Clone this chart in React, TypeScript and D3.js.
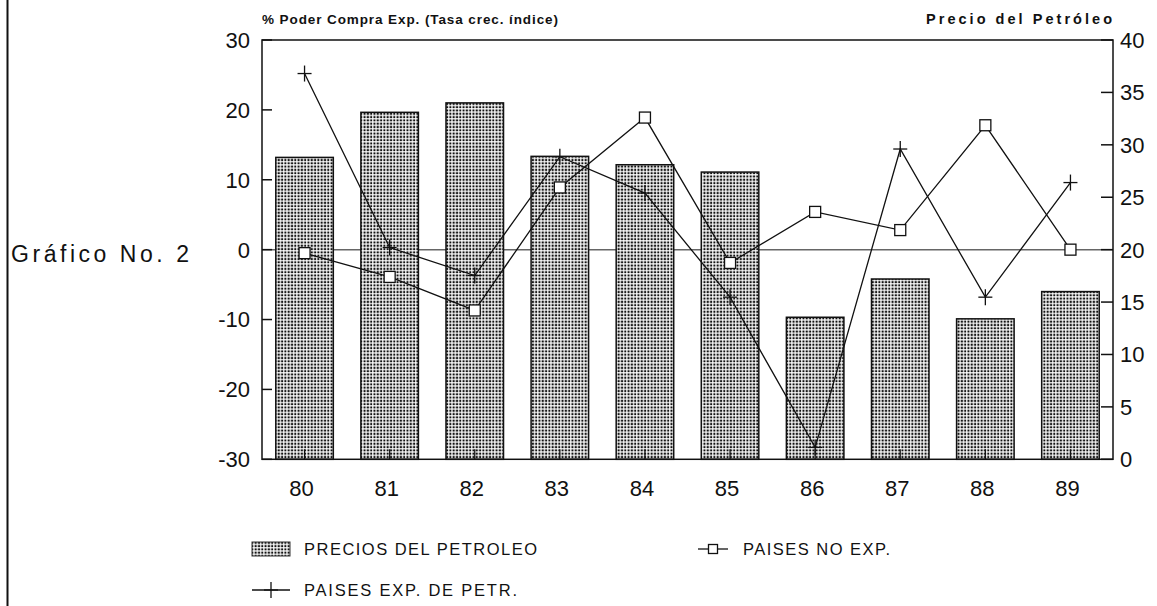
import React from "react";
import * as d3 from "d3";

const years = ["80", "81", "82", "83", "84", "85", "86", "87", "88", "89"];
const oilPrice = [28.8, 33.1, 34.0, 28.9, 28.1, 27.4, 13.55, 17.2, 13.4, 16.0];
const exporters = [25.2, 0.3, -3.7, 13.3, 8.1, -6.8, -28.3, 14.4, -6.8, 9.6];
const nonExporters = [-0.5, -3.9, -8.7, 8.9, 18.9, -1.9, 5.4, 2.8, 17.8, 0.0];
const leftTicks = [-30, -20, -10, 0, 10, 20, 30];
const rightTicks = [0, 5, 10, 15, 20, 25, 30, 35, 40];

const W = 1157;
const H = 606;
const L = 262, R = 1113, T = 40, B = 459.3;
const FONT = "'Liberation Sans', Arial, Helvetica, sans-serif";
const INK = "#111";

export default function App() {
  const x = d3.scaleBand<string>().domain(years).range([L, R]).paddingInner(0.324).paddingOuter(0.162);
  const yL = d3.scaleLinear().domain([-30, 30]).range([B, T]);
  const yR = d3.scaleLinear().domain([0, 40]).range([B, T]);
  const cx = (d: string) => (x(d) as number) + x.bandwidth() / 2;

  const lineGen = d3
    .line<number>()
    .x((_, i) => cx(years[i]))
    .y((v) => yL(v));

  const plus = (px: number, py: number, k: string) => (
    <g key={k} stroke={INK} strokeWidth={1.3}>
      <line x1={px - 7} x2={px + 7} y1={py} y2={py} />
      <line x1={px} x2={px} y1={py - 8} y2={py + 8} />
    </g>
  );
  const square = (px: number, py: number, k: string, s = 11) => (
    <rect key={k} x={px - s / 2} y={py - s / 2} width={s} height={s} fill="white" stroke={INK} strokeWidth={1.3} />
  );

  return (
    <svg
      width={W}
      height={H}
      style={{ position: "absolute", left: 0, top: 0, background: "white" }}
      fontFamily={FONT}
    >
      <defs>
        <pattern id="dots" width={3.3} height={3.3} patternUnits="userSpaceOnUse">
          <rect width={3.3} height={3.3} fill="white" />
          <rect x={0.5} y={0.5} width={2.1} height={2.1} fill="#111" />
        </pattern>
      </defs>
      <rect width={W} height={H} fill="white" />
      {/* page border */}
      <line x1={7.5} x2={7.5} y1={0} y2={H} stroke={INK} strokeWidth={2} />

      {/* titles */}
      <text x={L} y={24} fontSize={13.5} fontWeight="bold" textLength={296} lengthAdjust="spacing" fill={INK}>
        % Poder Compra Exp. (Tasa crec. índice)
      </text>
      <text x={926} y={24} fontSize={14.5} fontWeight="bold" textLength={186} lengthAdjust="spacing" fill={INK}>
        Precio del Petróleo
      </text>
      <text x={11} y={262} fontSize={23} textLength={178} lengthAdjust="spacing" fill={INK}>
        Gráfico No. 2
      </text>

      {/* zero line */}
      <line x1={L} x2={R} y1={yL(0)} y2={yL(0)} stroke="#666" strokeWidth={1.5} />

      {/* bars */}
      {years.map((d, i) => (
        <rect
          key={d}
          x={x(d)}
          y={yR(oilPrice[i])}
          width={x.bandwidth()}
          height={yR(0) - yR(oilPrice[i])}
          fill="url(#dots)"
          stroke={INK}
          strokeWidth={1.5}
        />
      ))}

      {/* lines */}
      <path d={lineGen(exporters) as string} fill="none" stroke={INK} strokeWidth={1.3} />
      <path d={lineGen(nonExporters) as string} fill="none" stroke={INK} strokeWidth={1.3} />
      {exporters.map((v, i) => plus(cx(years[i]), yL(v), "p" + i))}
      {nonExporters.map((v, i) => square(cx(years[i]), yL(v), "s" + i))}

      {/* frame */}
      <rect x={L} y={T} width={R - L} height={B - T} fill="none" stroke={INK} strokeWidth={1.5} />

      {/* left axis */}
      {leftTicks.map((t) => (
        <g key={"l" + t}>
          <line x1={L} x2={L + 10} y1={yL(t)} y2={yL(t)} stroke={INK} strokeWidth={1.5} />
          <text x={250} y={yL(t)} dy="0.36em" textAnchor="end" fontSize={22} fill={INK}>
            {t < 0 ? "-" + Math.abs(t) : String(t)}
          </text>
        </g>
      ))}
      {/* right axis */}
      {rightTicks.map((t) => (
        <g key={"r" + t}>
          <line x1={R - 12} x2={R} y1={yR(t)} y2={yR(t)} stroke={INK} strokeWidth={1.5} />
          <text x={1120} y={yR(t)} dy="0.36em" textAnchor="start" fontSize={22} fill={INK}>
            {String(t)}
          </text>
        </g>
      ))}
      {/* bottom axis */}
      {years.map((d) => (
        <g key={"b" + d}>
          <line x1={cx(d)} x2={cx(d)} y1={B} y2={B - 10} stroke={INK} strokeWidth={1.2} />
          <text x={cx(d) - 3} y={488} dy="0.36em" textAnchor="middle" fontSize={22} fill={INK}>
            {d}
          </text>
        </g>
      ))}

      {/* legend */}
      <rect x={252} y={542} width={38} height={14} fill="url(#dots)" stroke="#333" strokeWidth={1} />
      <text x={304} y={549} dy="0.36em" fontSize={16.5} textLength={233} lengthAdjust="spacing" fill={INK}>
        PRECIOS DEL PETROLEO
      </text>
      <line x1={698} x2={728} y1={549} y2={549} stroke={INK} strokeWidth={1.3} />
      {square(713, 549, "legsq", 9)}
      <text x={743} y={549} dy="0.36em" fontSize={16.5} textLength={147} lengthAdjust="spacing" fill={INK}>
        PAISES NO EXP.
      </text>
      <line x1={252} x2={290} y1={590} y2={590} stroke={INK} strokeWidth={1.3} />
      {plus(271, 590, "legpl")}
      <text x={304} y={590} dy="0.36em" fontSize={16.5} textLength={213} lengthAdjust="spacing" fill={INK}>
        PAISES EXP. DE PETR.
      </text>
    </svg>
  );
}
